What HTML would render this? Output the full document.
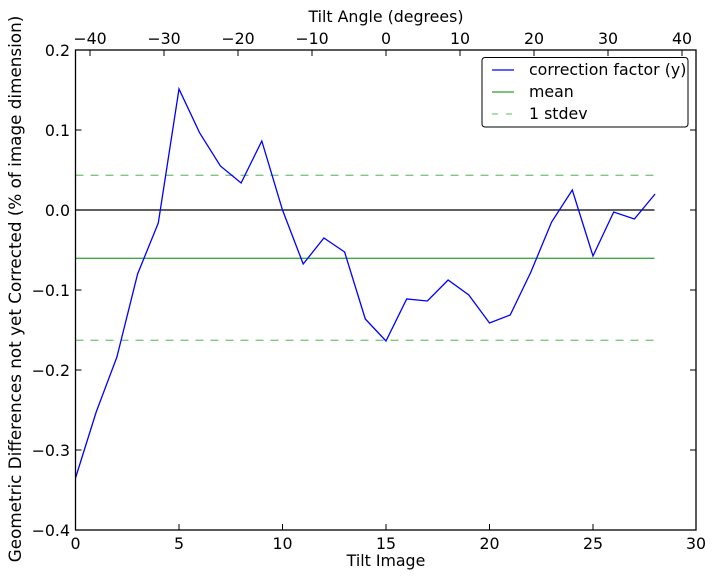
<!DOCTYPE html>
<html><head><meta charset="utf-8"><style>
html,body{margin:0;padding:0;background:#fff;}
svg text{font-family:"DejaVu Sans","Liberation Sans",sans-serif;font-size:15.8px;fill:#000;}
</style></head><body>
<svg width="714" height="579" viewBox="0 0 714 579" xmlns="http://www.w3.org/2000/svg">
<rect width="714" height="579" fill="#fff"/>
<line x1="75.5" y1="210" x2="654.5" y2="210" stroke="#000" stroke-width="1.3"/>
<line x1="75.5" y1="258.3" x2="654.5" y2="258.3" stroke="#2ca02c" stroke-width="1.3" stroke-opacity="0.9"/>
<line x1="75.5" y1="175.3" x2="654.5" y2="175.3" stroke="#2ca02c" stroke-width="1.3" stroke-dasharray="8,7" stroke-opacity="0.6"/>
<line x1="75.5" y1="340.3" x2="654.5" y2="340.3" stroke="#2ca02c" stroke-width="1.3" stroke-dasharray="8,7" stroke-opacity="0.6"/>
<polyline fill="none" stroke="#0000ff" stroke-width="1.3" points="75.5,478 96.2,412 116.9,357 137.6,274 158.3,223 179,89 199.7,133 220.4,166 241.1,183 261.8,141 282.5,210 303.2,264 323.9,238 344.6,252 365.3,319 386,341 406.7,299 427.4,301 448.1,280 468.8,295 489.5,323 510.2,315 530.9,272 551.6,222 572.3,190 593,256 613.7,212 634.4,219 655.1,194"/>
<rect x="75.5" y="50" width="620.5" height="480" fill="none" stroke="#000" stroke-width="1.3"/>
<g stroke="#000" stroke-width="1">
<line x1="75.5" y1="530" x2="75.5" y2="524"/><line x1="179" y1="530" x2="179" y2="524"/><line x1="282.5" y1="530" x2="282.5" y2="524"/><line x1="386" y1="530" x2="386" y2="524"/><line x1="489.5" y1="530" x2="489.5" y2="524"/><line x1="593" y1="530" x2="593" y2="524"/>
<line x1="90" y1="50" x2="90" y2="56"/><line x1="164" y1="50" x2="164" y2="56"/><line x1="238" y1="50" x2="238" y2="56"/><line x1="312" y1="50" x2="312" y2="56"/><line x1="386" y1="50" x2="386" y2="56"/><line x1="460" y1="50" x2="460" y2="56"/><line x1="534" y1="50" x2="534" y2="56"/><line x1="608" y1="50" x2="608" y2="56"/><line x1="682" y1="50" x2="682" y2="56"/>
<line x1="75.5" y1="130" x2="81.5" y2="130"/><line x1="75.5" y1="210" x2="81.5" y2="210"/><line x1="75.5" y1="290" x2="81.5" y2="290"/><line x1="75.5" y1="370" x2="81.5" y2="370"/><line x1="75.5" y1="450" x2="81.5" y2="450"/>
<line x1="696" y1="130" x2="690" y2="130"/><line x1="696" y1="210" x2="690" y2="210"/><line x1="696" y1="290" x2="690" y2="290"/><line x1="696" y1="370" x2="690" y2="370"/><line x1="696" y1="450" x2="690" y2="450"/>
</g>
<g text-anchor="middle">
<text x="75.5" y="549">0</text><text x="179" y="549">5</text><text x="282.5" y="549">10</text><text x="386" y="549">15</text><text x="489.5" y="549">20</text><text x="593" y="549">25</text><text x="696" y="549">30</text>
<text x="386" y="566">Tilt Image</text>
<text x="90" y="44">−40</text><text x="164" y="44">−30</text><text x="238" y="44">−20</text><text x="312" y="44">−10</text><text x="386" y="44">0</text><text x="460" y="44">10</text><text x="534" y="44">20</text><text x="608" y="44">30</text><text x="682" y="44">40</text>
<text x="386" y="22">Tilt Angle (degrees)</text>
</g>
<g text-anchor="end">
<text x="70" y="56">0.2</text><text x="70" y="136">0.1</text><text x="70" y="216">0.0</text><text x="70" y="296">−0.1</text><text x="70" y="376">−0.2</text><text x="70" y="456">−0.3</text><text x="70" y="536">−0.4</text>
</g>
<text transform="translate(21,289) rotate(-90)" text-anchor="middle" style="font-size:16.8px">Geometric Differences not yet Corrected (% of image dimension)</text>
<rect x="482" y="57.5" width="206" height="69.5" rx="3" fill="#fff" stroke="#000" stroke-width="1"/>
<line x1="492" y1="70" x2="514" y2="70" stroke="#0000ff" stroke-width="1.3"/>
<line x1="492" y1="92" x2="514" y2="92" stroke="#2ca02c" stroke-width="1.3"/>
<line x1="492" y1="114" x2="514" y2="114" stroke="#2ca02c" stroke-width="1.3" stroke-dasharray="6,8" stroke-opacity="0.6"/>
<text x="529" y="75">correction factor (y)</text>
<text x="529" y="97">mean</text>
<text x="529" y="119">1 stdev</text>
</svg>
</body></html>
